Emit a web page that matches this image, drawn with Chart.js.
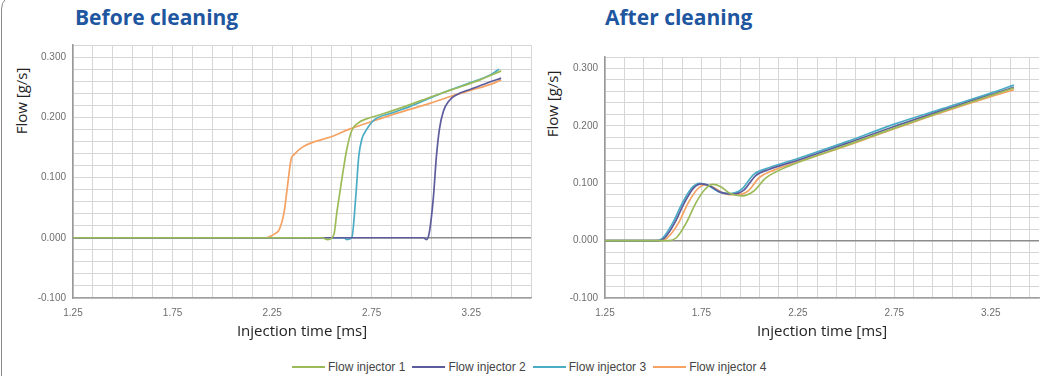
<!DOCTYPE html>
<html>
<head>
<meta charset="utf-8">
<script src="https://cdn.jsdelivr.net/npm/chart.js@4.4.0/dist/chart.umd.min.js"></script>
<style>
  html, body { margin: 0; padding: 0; background: #fff; }
  body { width: 1040px; height: 376px; position: relative; overflow: hidden; font-family: "Open Sans", sans-serif; }
  .frame { position: absolute; left: 1px; top: -6px; width: 1100px; height: 420px; border: 1px solid #8a8a8a; border-radius: 15px; }
  .title { position: absolute; top: 3px; font: bold 21px "Open Sans", sans-serif; color: #1e56a0; }
  .ytitle { position: absolute; width: 120px; height: 20px; line-height: 20px; text-align: center;
            font: 15px "Open Sans", sans-serif; color: #222; transform: rotate(-90deg); white-space: nowrap; }
  .box { position: absolute; top: 0; height: 345px; }
  #legend { position: absolute; left: 292px; top: 360px; display: flex; font: 12px "Liberation Sans", Arial, sans-serif; color: #444; }
  #legend span.item { display: flex; align-items: center; margin-right: 7px; }
  #legend span.line { display: inline-block; width: 33px; height: 2px; margin-right: 3px; }
</style>
</head>
<body>
<div class="frame"></div>
<div class="title" style="left:75px">Before cleaning</div>
<div class="title" style="left:605px">After cleaning</div>
<div class="ytitle" style="left:-39px; top:91px">Flow [g/s]</div>
<div class="ytitle" style="left:492px; top:94px">Flow [g/s]</div>
<div class="box" style="left:0; width:540px"><canvas id="before"></canvas></div>
<div class="box" style="left:540px; width:500px"><canvas id="after"></canvas></div>
<div id="legend"></div>
<script>
// series names and colours
var seriesNames = ['Flow injector 1', 'Flow injector 2', 'Flow injector 3', 'Flow injector 4'];
var seriesColors = ['#9bbb59', '#5c5c9c', '#4bacc6', '#f5a263'];

// tick labels
var xTickLabels = ['1.25', '1.75', '2.25', '2.75', '3.25'];
var yTickLabels = ['-0.100', '0.000', '0.100', '0.200', '0.300'];

// before cleaning: injection time [ms] / flow [g/s]
var before1T = [1.25, 2.50, 2.53, 2.56, 2.575, 2.60, 2.625, 2.65, 2.68, 2.72, 2.80, 2.90, 3.00, 3.10, 3.20, 3.30, 3.40];
var before1F = [0, 0, -0.003, 0.005, 0.042, 0.097, 0.147, 0.178, 0.19, 0.197, 0.205, 0.216, 0.228, 0.240, 0.251, 0.263, 0.277];
var before2T = [1.25, 3.01, 3.025, 3.04, 3.06, 3.075, 3.09, 3.11, 3.14, 3.18, 3.25, 3.33, 3.40];
var before2F = [0, 0, -0.003, 0.01, 0.068, 0.135, 0.18, 0.21, 0.228, 0.238, 0.247, 0.257, 0.265];
var before3T = [1.25, 2.61, 2.625, 2.65, 2.67, 2.685, 2.70, 2.725, 2.76, 2.85, 2.95, 3.05, 3.15, 3.25, 3.35, 3.39];
var before3F = [0, 0, -0.003, 0, 0.068, 0.135, 0.163, 0.18, 0.195, 0.207, 0.219, 0.233, 0.246, 0.258, 0.271, 0.280];
var before4T = [1.25, 2.22, 2.245, 2.27, 2.285, 2.31, 2.325, 2.345, 2.36, 2.40, 2.45, 2.55, 2.635, 2.75, 2.85, 2.95, 3.05, 3.15, 3.25, 3.35, 3.40];
var before4F = [0, 0, 0.003, 0.008, 0.013, 0.042, 0.08, 0.13, 0.138, 0.15, 0.158, 0.168, 0.18, 0.193, 0.204, 0.214, 0.224, 0.235, 0.245, 0.255, 0.262];

// after cleaning
var after1T = [1.25, 1.58, 1.62, 1.67, 1.72, 1.77, 1.81, 1.85, 1.90, 1.96, 2.02, 2.08, 2.15, 2.25, 2.50, 2.75, 3.00, 3.25, 3.37];
var after1F = [0, 0, 0.005, 0.03, 0.065, 0.09, 0.098, 0.094, 0.082, 0.078, 0.086, 0.108, 0.122, 0.136, 0.166, 0.196, 0.225, 0.253, 0.266];
var after2T = [1.25, 1.53, 1.56, 1.61, 1.66, 1.71, 1.75, 1.79, 1.85, 1.91, 1.97, 2.03, 2.10, 2.25, 2.50, 2.75, 3.00, 3.25, 3.37];
var after2F = [0, 0, 0.005, 0.03, 0.065, 0.092, 0.099, 0.096, 0.084, 0.081, 0.088, 0.113, 0.124, 0.140, 0.169, 0.199, 0.227, 0.254, 0.267];
var after3T = [1.25, 1.52, 1.55, 1.60, 1.65, 1.70, 1.74, 1.78, 1.84, 1.90, 1.96, 2.02, 2.10, 2.25, 2.50, 2.75, 3.00, 3.25, 3.37];
var after3F = [0, 0, 0.005, 0.03, 0.065, 0.092, 0.100, 0.097, 0.085, 0.082, 0.090, 0.115, 0.127, 0.143, 0.172, 0.203, 0.230, 0.257, 0.271];
var after4T = [1.25, 1.54, 1.57, 1.63, 1.68, 1.73, 1.77, 1.81, 1.87, 1.93, 1.99, 2.05, 2.12, 2.25, 2.50, 2.75, 3.00, 3.25, 3.37];
var after4F = [0, 0, 0.004, 0.03, 0.065, 0.09, 0.097, 0.093, 0.082, 0.080, 0.086, 0.110, 0.122, 0.137, 0.165, 0.195, 0.224, 0.251, 0.263];

var xGridStep = 0.1;
var yGridStep = 0.02;

function toPoints(t, f) {
    return t.map(function (v, i) { return {x: v, y: f[i]}; });
}

function makeDatasets(list) {
    return list.map(function (s, i) {
        return {
            label: seriesNames[i],
            data: toPoints(s[0], s[1]),
            borderColor: seriesColors[i],
            backgroundColor: seriesColors[i],
            borderWidth: 1.7,
            pointRadius: 0,
            fill: false,
            cubicInterpolationMode: 'monotone'
        };
    });
}

function makeOptions(xMin, xMax, yMin, yMax, axisW, padRight, padTop) {
    var tickFont = {family: '"Liberation Sans", Arial, sans-serif', size: 10};
    return {
        responsive: true,
        maintainAspectRatio: false,
        animation: false,
        layout: {padding: {left: 0, right: padRight, top: padTop, bottom: 0}},
        plugins: {legend: {display: false}, tooltip: {enabled: false}},
        scales: {
            x: {
                type: 'linear',
                min: xMin,
                max: xMax,
                afterBuildTicks: function (scale) {
                    var ticks = [];
                    for (var v = xMin; v <= xMax + 1e-9; v += xGridStep) ticks.push({value: Math.round(v * 100) / 100});
                    scale.ticks = ticks;
                },
                afterFit: function (scale) { scale.height = 47; },
                ticks: {
                    autoSkip: false, maxRotation: 0, padding: 9, color: '#6e6e6e', font: tickFont,
                    callback: function (value) {
                        var s = value.toFixed(2);
                        return xTickLabels.indexOf(s) >= 0 ? s : '';
                    }
                },
                grid: {color: '#d6d6d6', lineWidth: 1, drawTicks: false},
                border: {color: '#a0a0a0', width: 1.5},
                title: {display: true, text: 'Injection time [ms]', color: '#222',
                        font: {family: '"Open Sans", sans-serif', size: 15}, padding: {top: 0, bottom: 4}}
            },
            y: {
                min: yMin,
                max: yMax,
                afterBuildTicks: function (scale) {
                    var ticks = [];
                    for (var v = yMin; v <= yMax + 1e-9; v += yGridStep) ticks.push({value: Math.round(v * 1000) / 1000});
                    scale.ticks = ticks;
                },
                afterFit: function (scale) { scale.width = axisW; },
                ticks: {
                    autoSkip: false, padding: 7, color: '#6e6e6e', font: tickFont,
                    callback: function (value) {
                        var s = value.toFixed(3);
                        if (s === '-0.000') s = '0.000';
                        return yTickLabels.indexOf(s) >= 0 ? s : '';
                    }
                },
                grid: {
                    drawTicks: false,
                    color: function (ctx) { return Math.abs(ctx.tick.value) < 1e-9 ? '#8c8c8c' : '#d6d6d6'; },
                    lineWidth: function (ctx) { return Math.abs(ctx.tick.value) < 1e-9 ? 1.6 : 1; }
                },
                border: {color: '#999', width: 1.5}
            }
        }
    };
}

new Chart(document.getElementById('before'), {
    type: 'line',
    data: {datasets: makeDatasets([[before1T, before1F], [before2T, before2F], [before3T, before3F], [before4T, before4F]])},
    options: makeOptions(1.25, 3.55, -0.1, 0.32, 73, 7, 45)
});

new Chart(document.getElementById('after'), {
    type: 'line',
    data: {datasets: makeDatasets([[after1T, after1F], [after2T, after2F], [after3T, after3F], [after4T, after4F]])},
    options: makeOptions(1.25, 3.50, -0.1, 0.32, 65, 1, 57)
});

// shared legend
var legend = document.getElementById('legend');
seriesNames.forEach(function (name, i) {
    var item = document.createElement('span');
    item.className = 'item';
    item.innerHTML = '<span class="line" style="background:' + seriesColors[i] + '"></span>' + name;
    legend.appendChild(item);
});
</script>
</body>
</html>
